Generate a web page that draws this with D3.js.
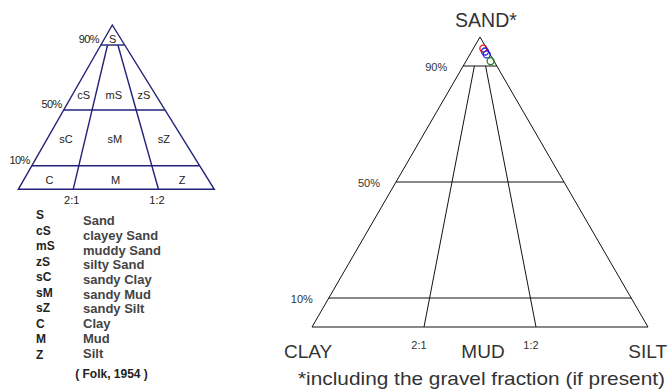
<!DOCTYPE html>
<html><head><meta charset="utf-8">
<script src="https://cdn.jsdelivr.net/npm/d3@7"></script>
<style>body{margin:0;background:#fff} svg{display:block;font-family:"Liberation Sans",Arial,sans-serif}</style>
</head><body><svg id="c" width="668" height="392"></svg>
<script>
// ---------- data ----------
const sandLevels = [10, 50, 90];               // sand % class boundaries
const ratioLabels = ["2:1", "1:2"];            // clay:silt boundaries
const ratioSiltFrac = [1/3, 2/3];              // silt fraction of mud at each boundary
const endLabels = ["CLAY", "MUD", "SILT"];
const apexLabel = "SAND*";
const footnote = "*including the gravel fraction (if present)";
// samples (percent)
const sampleSand = [96, 95, 94, 91.7];
const sampleSilt = [3, 4, 5, 7.3];
const sampleClay = [1, 1, 1, 1];
const sampleColor = ["#e01010", "#2222dd", "#2222dd", "#118811"];
// Folk schematic
const cellRows = [["S"], ["cS", "mS", "zS"], ["sC", "sM", "sZ"], ["C", "M", "Z"]];
const cellRowSand = [93, 59, 29, 4];
const legendCodes = ["S", "cS", "mS", "zS", "sC", "sM", "sZ", "C", "M", "Z"];
const legendNames = ["Sand", "clayey Sand", "muddy Sand", "silty Sand", "sandy Clay", "sandy Mud", "sandy Silt", "Clay", "Mud", "Silt"];
const citation = "( Folk, 1954 )";

const svg = d3.select("#c");

// ---------- right: ternary diagram ----------
const xR = d3.scaleLinear().domain([-1, 1]).range([312, 648]);   // (silt - clay) fraction
const yR = d3.scaleLinear().domain([0, 100]).range([327, 37]);    // sand %
const pR = (sand, clay, silt) => [xR((silt - clay) / 100), yR(sand)];
const gR = svg.append("g");
const line = d3.line();
const ink = "#111";

gR.append("path")
  .attr("d", line([pR(0,100,0), pR(100,0,0), pR(0,0,100)]) + "Z")
  .attr("fill", "none").attr("stroke", ink).attr("stroke-width", 1);

gR.selectAll(".lvl").data(sandLevels).join("path")
  .attr("d", s => line([pR(s, 100 - s, 0), pR(s, 0, 100 - s)]))
  .attr("stroke", ink).attr("stroke-width", 1);

gR.selectAll(".rat").data(ratioSiltFrac).join("path")
  .attr("d", f => line([pR(90, 10 * (1 - f), 10 * f), pR(0, 100 * (1 - f), 100 * f)]))
  .attr("stroke", ink).attr("stroke-width", 1);

gR.selectAll(".lvlT").data(sandLevels).join("text")
  .attr("x", s => pR(s, 100 - s, 0)[0] - 16).attr("y", s => yR(s) + 1)
  .attr("text-anchor", "end").attr("dominant-baseline", "central")
  .attr("font-size", 11).attr("fill", "#333").text(s => s + "%");

gR.selectAll(".ratT").data(ratioSiltFrac).join("text")
  .attr("x", (f) => pR(0, 100 * (1 - f), 100 * f)[0] - 5).attr("y", 345)
  .attr("text-anchor", "middle").attr("dominant-baseline", "central")
  .attr("font-size", 11).attr("fill", "#333").text((f, i) => ratioLabels[i]);

gR.append("text").attr("x", 486).attr("y", 27).attr("text-anchor", "middle")
  .attr("font-size", 19.5).attr("fill", "#333").text(apexLabel);

const endX = [pR(0,100,0)[0] - 28, xR(0) + 3, pR(0,0,100)[0] + 19];
const endAnchor = ["start", "middle", "end"];
gR.selectAll(".endT").data(endLabels).join("text")
  .attr("x", (d, i) => endX[i]).attr("y", 358)
  .attr("text-anchor", (d, i) => endAnchor[i])
  .attr("font-size", 19).attr("fill", "#333").text(d => d);

gR.append("text").attr("x", 298).attr("y", 385)
  .attr("font-size", 19).attr("fill", "#333")
  .attr("textLength", 367).attr("lengthAdjust", "spacingAndGlyphs").text(footnote);

gR.selectAll(".smp").data(sampleSand).join("circle")
  .attr("cx", (s, i) => pR(s, sampleClay[i], sampleSilt[i])[0])
  .attr("cy", (s, i) => pR(s, sampleClay[i], sampleSilt[i])[1])
  .attr("r", 3.5).attr("fill", "none")
  .attr("stroke", (s, i) => sampleColor[i]).attr("stroke-width", 1.3);

// ---------- left: Folk schematic ----------
const yL = d3.scaleLinear().domain([0, 10, 50, 90, 100]).range([189.3, 165.7, 110, 45, 25]);
const leftEdge = d3.scaleLinear().domain([189.3, 25]).range([18.3, 112.3]);
const rightEdge = d3.scaleLinear().domain([189.3, 25]).range([214.3, 112.3]);
const fracL = d3.scaleLinear().domain([0, 1/3, 2/3, 1]).range([0, 0.28, 0.715, 1]);
const pL = (sand, f) => {
  const y = yL(sand), l = leftEdge(y), r = rightEdge(y);
  return [l + fracL(f) * (r - l), y];
};
const gL = svg.append("g");
const navy = "#22227a";

gL.append("path")
  .attr("d", line([pL(0,0), pL(100,0), pL(0,1)]) + "Z")
  .attr("fill", "none").attr("stroke", navy).attr("stroke-width", 1.4);
gL.selectAll(".lvl").data(sandLevels).join("path")
  .attr("d", s => line([pL(s, 0), pL(s, 1)]))
  .attr("stroke", navy).attr("stroke-width", 1.4);
gL.selectAll(".rat").data(ratioSiltFrac).join("path")
  .attr("d", f => line([pL(90, f), pL(0, f)]))
  .attr("stroke", navy).attr("stroke-width", 1.4);

gL.selectAll(".lvlT").data(sandLevels).join("text")
  .attr("x", s => pL(s, 0)[0] - 2).attr("y", s => yL(s) - 6)
  .attr("text-anchor", "end").attr("dominant-baseline", "central")
  .attr("font-size", 11).attr("letter-spacing", -0.6).attr("fill", "#222").text(s => s + "%");

gL.selectAll(".ratT").data(ratioSiltFrac).join("text")
  .attr("x", f => pL(0, f)[0] - 1.5).attr("y", 199.5)
  .attr("text-anchor", "middle").attr("dominant-baseline", "central")
  .attr("font-size", 11).attr("fill", "#222").text((f, i) => ratioLabels[i]);

cellRows.forEach((row, ri) => {
  const n = row.length;
  gL.selectAll(".cell" + ri).data(row).join("text")
    .attr("x", (d, i) => {
      const f = n === 1 ? 0.5 : (i + 0.5) / n;
      return pL(cellRowSand[ri], f)[0];
    })
    .attr("y", yL(cellRowSand[ri]))
    .attr("text-anchor", "middle").attr("dominant-baseline", "central")
    .attr("font-size", 11).attr("fill", "#222").text(d => d);
});

const rowCode = d3.scaleLinear().domain([0, 9]).range([215, 355]);
const rowName = d3.scaleLinear().domain([0, 9]).range([220.7, 353]);
gL.selectAll(".code").data(legendCodes).join("text")
  .attr("x", 36).attr("y", (d, i) => rowCode(i)).attr("dominant-baseline", "central")
  .attr("font-size", 12).attr("font-weight", "bold").attr("fill", "#222").text(d => d);
gL.selectAll(".name").data(legendNames).join("text")
  .attr("x", 83).attr("y", (d, i) => rowName(i)).attr("dominant-baseline", "central")
  .attr("font-size", 13).attr("font-weight", "bold").attr("fill", "#444").text(d => d);
gL.append("text").attr("x", 111.5).attr("y", 374)
  .attr("text-anchor", "middle").attr("dominant-baseline", "central")
  .attr("font-size", 12).attr("font-weight", "bold").attr("fill", "#222").text(citation);
</script></body></html>
